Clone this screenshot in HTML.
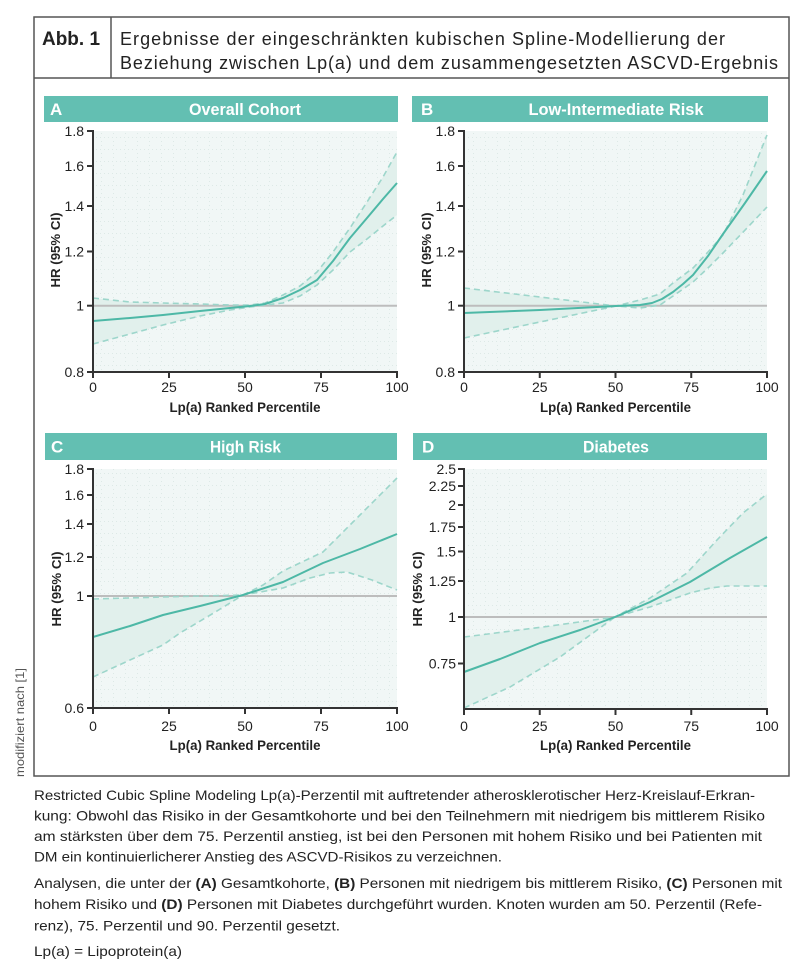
<!DOCTYPE html>
<html><head><meta charset="utf-8"><style>
html,body{margin:0;padding:0;background:#fff;}
svg{display:block;}
text{font-family:"Liberation Sans",Arial,sans-serif;}
</style></head><body>
<svg width="800" height="974" viewBox="0 0 800 974" xmlns="http://www.w3.org/2000/svg">
<defs>
<pattern id="grid" x="0" y="0" width="12" height="12" patternUnits="userSpaceOnUse">
<rect width="12" height="12" fill="#f1f7f6"/>
<rect x="0" y="5" width="1" height="1" fill="#dde9e6"/><rect x="4" y="5" width="1" height="1" fill="#dde9e6"/><rect x="8" y="5" width="1" height="1" fill="#dde9e6"/>
<rect x="5" y="1" width="1" height="1" fill="#dde9e6"/><rect x="5" y="9" width="1" height="1" fill="#dde9e6"/>
</pattern>
</defs>

<!-- Frame -->
<rect x="34" y="17" width="755" height="759" fill="none" stroke="#555" stroke-width="1.5"/>
<line x1="34" y1="78" x2="789" y2="78" stroke="#555" stroke-width="1.5"/>
<line x1="111" y1="17" x2="111" y2="78" stroke="#555" stroke-width="1.5"/>
<text x="42" y="45" font-size="19" font-weight="bold" fill="#222" textLength="58" lengthAdjust="spacingAndGlyphs">Abb. 1</text>
<text x="120" y="45" font-size="18" fill="#222" textLength="605" lengthAdjust="spacing">Ergebnisse der eingeschränkten kubischen Spline-Modellierung der</text>
<text x="120" y="69" font-size="18" fill="#222" textLength="658" lengthAdjust="spacing">Beziehung zwischen Lp(a) und dem zusammengesetzten ASCVD-Ergebnis</text>

<text transform="translate(24,777) rotate(-90)" font-size="12" fill="#555" textLength="109" lengthAdjust="spacingAndGlyphs">modifiziert nach [1]</text>

<!-- ================= Panel A ================= -->
<rect x="44" y="96" width="354" height="26" fill="#63bfb2"/>
<text x="50" y="115" font-size="17" font-weight="bold" fill="#fff">A</text>
<text x="245" y="115" font-size="17" font-weight="bold" fill="#fff" text-anchor="middle" textLength="112" lengthAdjust="spacingAndGlyphs">Overall Cohort</text>
<rect x="93" y="131" width="304" height="241" fill="url(#grid)"/>
<polygon fill="#e1f0ec" points="93,298 130,302 163,303 200,304 230,305 250,305 265,303 283,295 300,286 317,272 333,252 350,228 367,202 383,177 397,152 397,215 383,226 367,239 350,252 333,270 317,285 300,296 283,303 265,305 250,307 230,310 200,316 163,325 130,334 93,344"/>
<line x1="93" y1="305.7" x2="397" y2="305.7" stroke="#bdbdbd" stroke-width="2"/>
<polyline fill="none" stroke="#9dd6cb" stroke-width="1.6" stroke-dasharray="6,4" points="93,298 130,302 163,303 200,304 230,305 250,305 265,303 283,295 300,286 317,272 333,252 350,228 367,202 383,177 397,152"/>
<polyline fill="none" stroke="#9dd6cb" stroke-width="1.6" stroke-dasharray="6,4" points="93,344 130,334 163,325 200,316 230,310 250,307 265,305 283,303 300,296 317,285 333,270 350,252 367,239 383,226 397,215"/>
<polyline fill="none" stroke="#4db8a6" stroke-width="2" stroke-linejoin="round" points="93,321 130,318 163,315 200,311 230,308 250,306 265,304 283,298 300,290 317,280 333,261 350,238 367,218 383,199 397,183"/>
<g stroke="#333" stroke-width="2" fill="none">
<line x1="93" y1="130" x2="93" y2="373"/><line x1="92" y1="372" x2="398" y2="372"/>
<line x1="87" y1="131" x2="93" y2="131"/><line x1="87" y1="166" x2="93" y2="166"/><line x1="87" y1="206" x2="93" y2="206"/><line x1="87" y1="251.5" x2="93" y2="251.5"/><line x1="87" y1="305.7" x2="93" y2="305.7"/><line x1="87" y1="372" x2="93" y2="372"/>
<line x1="93" y1="372" x2="93" y2="378"/><line x1="169" y1="372" x2="169" y2="378"/><line x1="245" y1="372" x2="245" y2="378"/><line x1="321" y1="372" x2="321" y2="378"/><line x1="397" y1="372" x2="397" y2="378"/>
</g>
<g font-size="14" fill="#222" text-anchor="end">
<text x="84" y="136">1.8</text><text x="84" y="171">1.6</text><text x="84" y="211">1.4</text><text x="84" y="256.5">1.2</text><text x="84" y="310.7">1</text><text x="84" y="377">0.8</text>
</g>
<g font-size="14" fill="#222" text-anchor="middle">
<text x="93" y="392">0</text><text x="169" y="392">25</text><text x="245" y="392">50</text><text x="321" y="392">75</text><text x="397" y="392">100</text>
</g>
<text x="245" y="412" font-size="14" font-weight="bold" fill="#222" text-anchor="middle" textLength="151" lengthAdjust="spacingAndGlyphs">Lp(a) Ranked Percentile</text>
<text transform="translate(60,250) rotate(-90)" font-size="13" font-weight="bold" fill="#222" text-anchor="middle" textLength="75" lengthAdjust="spacingAndGlyphs">HR (95% CI)</text>

<!-- ================= Panel B ================= -->
<rect x="412" y="96" width="356" height="26" fill="#63bfb2"/>
<text x="421" y="115" font-size="17" font-weight="bold" fill="#fff">B</text>
<text x="616" y="115" font-size="17" font-weight="bold" fill="#fff" text-anchor="middle" textLength="175" lengthAdjust="spacingAndGlyphs">Low-Intermediate Risk</text>
<rect x="464" y="131" width="303" height="241" fill="url(#grid)"/>
<polygon fill="#e1f0ec" points="464,288 540,297 616,306 640,300 660,294 673,283 693,268 708,252 723,235 743,195 767,135 767,207 747,228 723,253 708,268 693,282 676,294 660,305 640,308 616,306 540,322 464,338"/>
<line x1="464" y1="305.7" x2="767" y2="305.7" stroke="#bdbdbd" stroke-width="2"/>
<polyline fill="none" stroke="#9dd6cb" stroke-width="1.6" stroke-dasharray="6,4" points="464,288 540,297 616,306 640,300 660,294 673,283 693,268 708,252 723,235 743,195 767,135"/>
<polyline fill="none" stroke="#9dd6cb" stroke-width="1.6" stroke-dasharray="6,4" points="464,338 540,322 616,306 640,308 660,305 676,294 693,282 708,268 723,253 747,228 767,207"/>
<polyline fill="none" stroke="#4db8a6" stroke-width="2" stroke-linejoin="round" points="464,313 540,310 616,306 640,305 652,303 662,299 673,292 683,284 693,275 708,256 723,234 745,203 767,171"/>
<g stroke="#333" stroke-width="2" fill="none">
<line x1="464" y1="130" x2="464" y2="373"/><line x1="463" y1="372" x2="768" y2="372"/>
<line x1="458" y1="131" x2="464" y2="131"/><line x1="458" y1="166" x2="464" y2="166"/><line x1="458" y1="206" x2="464" y2="206"/><line x1="458" y1="251.5" x2="464" y2="251.5"/><line x1="458" y1="305.7" x2="464" y2="305.7"/><line x1="458" y1="372" x2="464" y2="372"/>
<line x1="464" y1="372" x2="464" y2="378"/><line x1="539.75" y1="372" x2="539.75" y2="378"/><line x1="615.5" y1="372" x2="615.5" y2="378"/><line x1="691.25" y1="372" x2="691.25" y2="378"/><line x1="767" y1="372" x2="767" y2="378"/>
</g>
<g font-size="14" fill="#222" text-anchor="end">
<text x="455" y="136">1.8</text><text x="455" y="171">1.6</text><text x="455" y="211">1.4</text><text x="455" y="256.5">1.2</text><text x="455" y="310.7">1</text><text x="455" y="377">0.8</text>
</g>
<g font-size="14" fill="#222" text-anchor="middle">
<text x="464" y="392">0</text><text x="539.75" y="392">25</text><text x="615.5" y="392">50</text><text x="691.25" y="392">75</text><text x="767" y="392">100</text>
</g>
<text x="615.5" y="412" font-size="14" font-weight="bold" fill="#222" text-anchor="middle" textLength="151" lengthAdjust="spacingAndGlyphs">Lp(a) Ranked Percentile</text>
<text transform="translate(431,250) rotate(-90)" font-size="13" font-weight="bold" fill="#222" text-anchor="middle" textLength="75" lengthAdjust="spacingAndGlyphs">HR (95% CI)</text>

<!-- ================= Panel C ================= -->
<rect x="45" y="433" width="352" height="27" fill="#63bfb2"/>
<text x="51" y="452.5" font-size="17" font-weight="bold" fill="#fff">C</text>
<text x="245.5" y="452.5" font-size="17" font-weight="bold" fill="#fff" text-anchor="middle" textLength="71" lengthAdjust="spacingAndGlyphs">High Risk</text>
<rect x="93" y="469" width="304" height="239" fill="url(#grid)"/>
<polygon fill="#e1f0ec" points="93,599 163,597 243,595 263,585 283,571 323,552 360,515 397,478 397,590 372,580 347,572 330,572 283,588 243,595 180,633 163,645 130,660 93,677"/>
<line x1="93" y1="596" x2="397" y2="596" stroke="#bdbdbd" stroke-width="2"/>
<polyline fill="none" stroke="#9dd6cb" stroke-width="1.6" stroke-dasharray="6,4" points="93,599 163,597 243,595 263,585 283,571 323,552 360,515 397,478"/>
<polyline fill="none" stroke="#9dd6cb" stroke-width="1.6" stroke-dasharray="6,4" points="93,677 130,660 163,645 180,633 212,614 243,595 283,588 310,578 330,573 347,572 372,580 397,590"/>
<polyline fill="none" stroke="#4db8a6" stroke-width="2" stroke-linejoin="round" points="93,637 130,626 163,615 200,606 243,595 283,582 323,563 360,549 397,534"/>
<g stroke="#333" stroke-width="2" fill="none">
<line x1="93" y1="468" x2="93" y2="709"/><line x1="92" y1="708" x2="398" y2="708"/>
<line x1="87" y1="469" x2="93" y2="469"/><line x1="87" y1="495" x2="93" y2="495"/><line x1="87" y1="524" x2="93" y2="524"/><line x1="87" y1="557" x2="93" y2="557"/><line x1="87" y1="596" x2="93" y2="596"/><line x1="87" y1="708" x2="93" y2="708"/>
<line x1="93" y1="708" x2="93" y2="714"/><line x1="169" y1="708" x2="169" y2="714"/><line x1="245" y1="708" x2="245" y2="714"/><line x1="321" y1="708" x2="321" y2="714"/><line x1="397" y1="708" x2="397" y2="714"/>
</g>
<g font-size="14" fill="#222" text-anchor="end">
<text x="84" y="474">1.8</text><text x="84" y="500">1.6</text><text x="84" y="529">1.4</text><text x="84" y="562">1.2</text><text x="84" y="601">1</text><text x="84" y="713">0.6</text>
</g>
<g font-size="14" fill="#222" text-anchor="middle">
<text x="93" y="731">0</text><text x="169" y="731">25</text><text x="245" y="731">50</text><text x="321" y="731">75</text><text x="397" y="731">100</text>
</g>
<text x="245" y="750" font-size="14" font-weight="bold" fill="#222" text-anchor="middle" textLength="151" lengthAdjust="spacingAndGlyphs">Lp(a) Ranked Percentile</text>
<text transform="translate(61,589) rotate(-90)" font-size="13" font-weight="bold" fill="#222" text-anchor="middle" textLength="75" lengthAdjust="spacingAndGlyphs">HR (95% CI)</text>

<!-- ================= Panel D ================= -->
<rect x="413" y="433" width="354" height="27" fill="#63bfb2"/>
<text x="422" y="452.5" font-size="17" font-weight="bold" fill="#fff">D</text>
<text x="616" y="452.5" font-size="17" font-weight="bold" fill="#fff" text-anchor="middle" textLength="66" lengthAdjust="spacingAndGlyphs">Diabetes</text>
<rect x="464" y="469" width="303" height="240" fill="url(#grid)"/>
<polygon fill="#e1f0ec" points="464,637 543,627 615,617 650,598 687,573 717,540 743,513 767,494 767,586 727,586 690,593 650,607 615,617 560,657 510,687 464,708"/>
<line x1="464" y1="617" x2="767" y2="617" stroke="#bdbdbd" stroke-width="2"/>
<polyline fill="none" stroke="#9dd6cb" stroke-width="1.6" stroke-dasharray="6,4" points="464,637 543,627 615,617 650,598 687,573 717,540 743,513 767,494"/>
<polyline fill="none" stroke="#9dd6cb" stroke-width="1.6" stroke-dasharray="6,4" points="464,708 510,687 560,657 615,617 650,607 690,593 710,588 727,586 767,586"/>
<polyline fill="none" stroke="#4db8a6" stroke-width="2" stroke-linejoin="round" points="464,672 500,659 540,643 580,630 615,617 650,602 690,582 730,558 767,537"/>
<g stroke="#333" stroke-width="2" fill="none">
<line x1="464" y1="468" x2="464" y2="710"/><line x1="463" y1="709" x2="768" y2="709"/>
<line x1="458" y1="469" x2="464" y2="469"/><line x1="458" y1="486" x2="464" y2="486"/><line x1="458" y1="505" x2="464" y2="505"/><line x1="458" y1="527" x2="464" y2="527"/><line x1="458" y1="551.5" x2="464" y2="551.5"/><line x1="458" y1="581" x2="464" y2="581"/><line x1="458" y1="617" x2="464" y2="617"/><line x1="458" y1="663.5" x2="464" y2="663.5"/>
<line x1="464" y1="709" x2="464" y2="715"/><line x1="539.75" y1="709" x2="539.75" y2="715"/><line x1="615.5" y1="709" x2="615.5" y2="715"/><line x1="691.25" y1="709" x2="691.25" y2="715"/><line x1="767" y1="709" x2="767" y2="715"/>
</g>
<g font-size="14" fill="#222" text-anchor="end">
<text x="456" y="474">2.5</text><text x="456" y="491">2.25</text><text x="456" y="510">2</text><text x="456" y="532">1.75</text><text x="456" y="556.5">1.5</text><text x="456" y="586">1.25</text><text x="456" y="622">1</text><text x="456" y="668.5">0.75</text>
</g>
<g font-size="14" fill="#222" text-anchor="middle">
<text x="464" y="731">0</text><text x="539.75" y="731">25</text><text x="615.5" y="731">50</text><text x="691.25" y="731">75</text><text x="767" y="731">100</text>
</g>
<text x="615.5" y="750" font-size="14" font-weight="bold" fill="#222" text-anchor="middle" textLength="151" lengthAdjust="spacingAndGlyphs">Lp(a) Ranked Percentile</text>
<text transform="translate(422,589) rotate(-90)" font-size="13" font-weight="bold" fill="#222" text-anchor="middle" textLength="75" lengthAdjust="spacingAndGlyphs">HR (95% CI)</text>

<!-- ================= Caption ================= -->
<g font-size="14" fill="#222">
<text x="34" y="800" textLength="721" lengthAdjust="spacingAndGlyphs">Restricted Cubic Spline Modeling Lp(a)-Perzentil mit auftretender atherosklerotischer Herz-Kreislauf-Erkran-</text>
<text x="34" y="820.5" textLength="731" lengthAdjust="spacingAndGlyphs">kung: Obwohl das Risiko in der Gesamtkohorte und bei den Teilnehmern mit niedrigem bis mittlerem Risiko</text>
<text x="34" y="841" textLength="728" lengthAdjust="spacingAndGlyphs">am stärksten über dem 75. Perzentil anstieg, ist bei den Personen mit hohem Risiko und bei Patienten mit</text>
<text x="34" y="861.5" textLength="468" lengthAdjust="spacingAndGlyphs">DM ein kontinuierlicherer Anstieg des ASCVD-Risikos zu verzeichnen.</text>
<text x="34" y="888" textLength="748" lengthAdjust="spacingAndGlyphs">Analysen, die unter der <tspan font-weight="bold">(A)</tspan> Gesamtkohorte, <tspan font-weight="bold">(B)</tspan> Personen mit niedrigem bis mittlerem Risiko, <tspan font-weight="bold">(C)</tspan> Personen mit</text>
<text x="34" y="909" textLength="728" lengthAdjust="spacingAndGlyphs">hohem Risiko und <tspan font-weight="bold">(D)</tspan> Personen mit Diabetes durchgeführt wurden. Knoten wurden am 50. Perzentil (Refe-</text>
<text x="34" y="930.5" textLength="306" lengthAdjust="spacingAndGlyphs">renz), 75. Perzentil und 90. Perzentil gesetzt.</text>
<text x="34" y="956" textLength="148" lengthAdjust="spacingAndGlyphs">Lp(a) = Lipoprotein(a)</text>
</g>
</svg>
</body></html>
